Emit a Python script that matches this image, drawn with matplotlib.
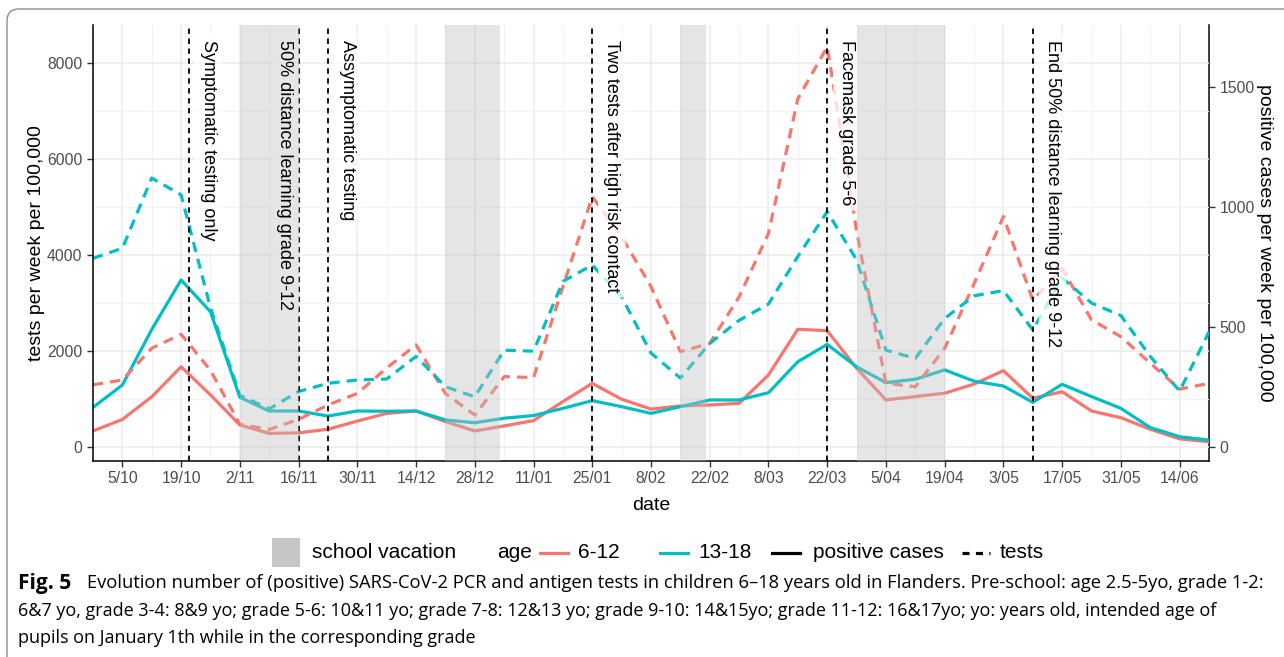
import matplotlib.pyplot as plt
from matplotlib.lines import Line2D
from matplotlib.patches import FancyBboxPatch, Rectangle
import pandas as pd

plt.rcParams['font.family'] = ['Liberation Sans', 'DejaVu Sans']

# weekly data, 28/09/2020 .. 21/06/2021
weeks = pd.date_range('2020-09-28', periods=39, freq='7D')

# positive cases per week per 100,000 (right axis)
cases_6_12 = [68, 116, 210, 335, 218, 93, 58, 60, 75, 109, 141, 151, 107,
              68, 89, 111, 190, 266, 200, 159, 172, 176, 183, 301, 491, 485,
              329, 197, 211, 225, 263, 319, 204, 231, 151, 123, 75, 35, 23]
cases_13_18 = [166, 259, 490, 696, 564, 208, 151, 151, 130, 151, 150, 151, 114,
               102, 121, 132, 162, 194, 169, 141, 169, 197, 197, 227, 356, 428,
               335, 269, 283, 322, 275, 255, 187, 262, 211, 162, 82, 44, 30]

# tests per week per 100,000 (left axis)
tests_6_12 = [1300, 1400, 2060, 2350, 1600, 480, 370, 580, 880, 1120, 1650, 2130,
              1120, 670, 1470, 1450, 3340, 5210, 4380, 3340, 1990, 2160, 3130,
              4450, 7250, 8330, 4500, 1330, 1260, 2060, 3400, 4800, 3060, 3720,
              2650, 2300, 1750, 1210, 1330]
tests_13_18 = [3930, 4140, 5600, 5250, 2900, 1080, 800, 1160, 1330, 1400, 1420, 1890,
               1260, 1050, 2020, 2000, 3450, 3790, 3130, 1960, 1440, 2160, 2640,
               2980, 3970, 4900, 3900, 2020, 1850, 2680, 3150, 3260, 2440, 3520,
               3000, 2740, 1890, 1170, 2400]

vacations = [('2020-11-02', '2020-11-16'), ('2020-12-21', '2021-01-03'),
             ('2021-02-15', '2021-02-21'), ('2021-03-29', '2021-04-19')]

event_dates = ['2020-10-21', '2020-11-16', '2020-11-23', '2021-01-25',
               '2021-03-22', '2021-05-10']
event_labels = ['Symptomatic testing only', '50% distance learning grade 9-12',
                'Assymptomatic testing', 'Two tests after high risk contact',
                'Facemask grade 5-6', 'End 50% distance learning grade 9-12']
label_shift = [4.5, -3.3, 4.7, 4.7, 4.7, 4.7]  # days

case_scale = 5  # right axis = left axis / 5

RED = '#F8766D'
TEAL = '#00BFC4'
W, H = 1284, 657

fig = plt.figure(figsize=(12.84, 6.57), dpi=100)
ax = fig.add_axes([93 / W, 1 - 461 / H, (1209 - 93) / W, (461 - 25) / H])

dash = (3.2, 2.2)
ax.plot(weeks, [c * case_scale for c in cases_6_12], color=RED, lw=2.3, zorder=2)
ax.plot(weeks, [c * case_scale for c in cases_13_18], color=TEAL, lw=2.3, zorder=2)
ax.plot(weeks, tests_6_12, color=RED, lw=2.3, dashes=dash, zorder=2)
ax.plot(weeks, tests_13_18, color=TEAL, lw=2.3, dashes=dash, zorder=2)

for d, lab, sh in zip(event_dates, event_labels, label_shift):
    d = pd.Timestamp(d)
    tx = d + pd.Timedelta(days=sh)
    ax.axvline(d, color='black', lw=1.3, dashes=(3, 2.5), zorder=4)
    # label box sits under the shading, the text itself on top
    ax.text(tx, 8470, lab, rotation=-90, ha='center', va='top', fontsize=13,
            color='none', zorder=5,
            bbox=dict(boxstyle='round,pad=0.3', fc='white', ec='none', alpha=0.75))
    ax.text(tx, 8470, lab, rotation=-90, ha='center', va='top', fontsize=13, zorder=7)

# shading drawn over lines and label boxes
for start, end in vacations:
    ax.axvspan(pd.Timestamp(start), pd.Timestamp(end), color='#BEBEBE', alpha=0.4,
               lw=0, zorder=6)

ax.set_xlim(weeks[0], weeks[-1])
ax.set_ylim(-285, 8783)

xt = pd.date_range('2020-10-05', '2021-06-14', freq='14D')
ax.set_xticks(xt)
ax.set_xticklabels([f'{d.day}/{d.month:02d}' for d in xt])
ax.set_xticks(pd.date_range('2020-09-28', '2021-06-21', freq='14D'), minor=True)
ax.set_yticks([0, 2000, 4000, 6000, 8000])
ax.set_yticks([1000, 3000, 5000, 7000], minor=True)

ax.grid(True, which='major', color='#EBEBEB', lw=1.1, zorder=0)
ax.grid(True, which='minor', color='#F2F2F2', lw=0.8, zorder=0)
ax.set_axisbelow(True)

for s in ['top', 'right']:
    ax.spines[s].set_visible(False)
for s in ['left', 'bottom']:
    ax.spines[s].set_linewidth(1.1)
ax.tick_params(which='major', length=4, width=1, colors='#333333',
               labelcolor='#4D4D4D', labelsize=11.3)
ax.tick_params(which='minor', length=0)

ax.set_xlabel('date', fontsize=14)
ax.xaxis.set_label_coords(0.5, -0.082)
ax.set_ylabel('tests per week per 100,000', fontsize=14, va='center')
ax.yaxis.set_label_coords(-0.051, 0.5)

sec = ax.secondary_yaxis('right', functions=(lambda v: v / case_scale,
                                             lambda v: v * case_scale))
sec.set_yticks([0, 500, 1000, 1500])
sec.spines['right'].set_linewidth(1.1)
sec.tick_params(length=4, width=1, colors='#333333', labelcolor='#4D4D4D',
                labelsize=11.3)
fig.text(1265 / W, 1 - 243 / H, 'positive cases per week per 100,000', fontsize=14,
         rotation=-90, ha='center', va='center')

# legend row
ly = 1 - 553 / H
fig.add_artist(Rectangle((272 / W, 1 - 567 / H), 28 / W, 29 / H,
                         transform=fig.transFigure, color='#C6C6C6', lw=0))
fig.text(312 / W, ly, 'school vacation', fontsize=15, va='center')
fig.text(497 / W, ly, 'age', fontsize=15, va='center')
keys = [(540, RED, '-', '6-12', 578), (660, TEAL, '-', '13-18', 698),
        (772, 'black', '-', 'positive cases', 813), (962, 'black', '--', 'tests', 1000)]
for x0, col, ls, lab, tx in keys:
    ln = Line2D([x0 / W, (x0 + 28) / W], [ly, ly], transform=fig.transFigure,
                color=col, lw=2.3, ls=ls)
    if ls == '--':
        ln.set_dashes((2.2, 2.0))
    fig.add_artist(ln)
    fig.text(tx / W, ly, lab, fontsize=15, va='center')

# caption
cap_font = ['Open Sans', 'DejaVu Sans']
fig.text(18 / W, 1 - 583 / H, 'Fig. 5', fontsize=15, fontweight='bold',
         family=cap_font, va='center')
fig.text(87 / W, 1 - 583 / H,
         'Evolution number of (positive) SARS-CoV-2 PCR and antigen tests in children '
         '6–18 years old in Flanders. Pre-school: age 2.5-5yo, grade 1-2:',
         fontsize=13.2, family=cap_font, va='center')
fig.text(18 / W, 1 - 611 / H,
         '6&7 yo, grade 3-4: 8&9 yo; grade 5-6: 10&11 yo; grade 7-8: 12&13 yo; '
         'grade 9-10: 14&15yo; grade 11-12: 16&17yo; yo: years old, intended age of',
         fontsize=13.0, family=cap_font, va='center')
fig.text(18 / W, 1 - 638 / H,
         'pupils on January 1th while in the corresponding grade',
         fontsize=13.0, family=cap_font, va='center')

# rounded figure frame
fig.add_artist(FancyBboxPatch((7, -30), 1320, H - 9 + 30, transform=None,
                              boxstyle='round,pad=0,rounding_size=12',
                              fc='none', ec='#8C8C8C', lw=1.0))

fig.savefig('out.png', dpi=100)
